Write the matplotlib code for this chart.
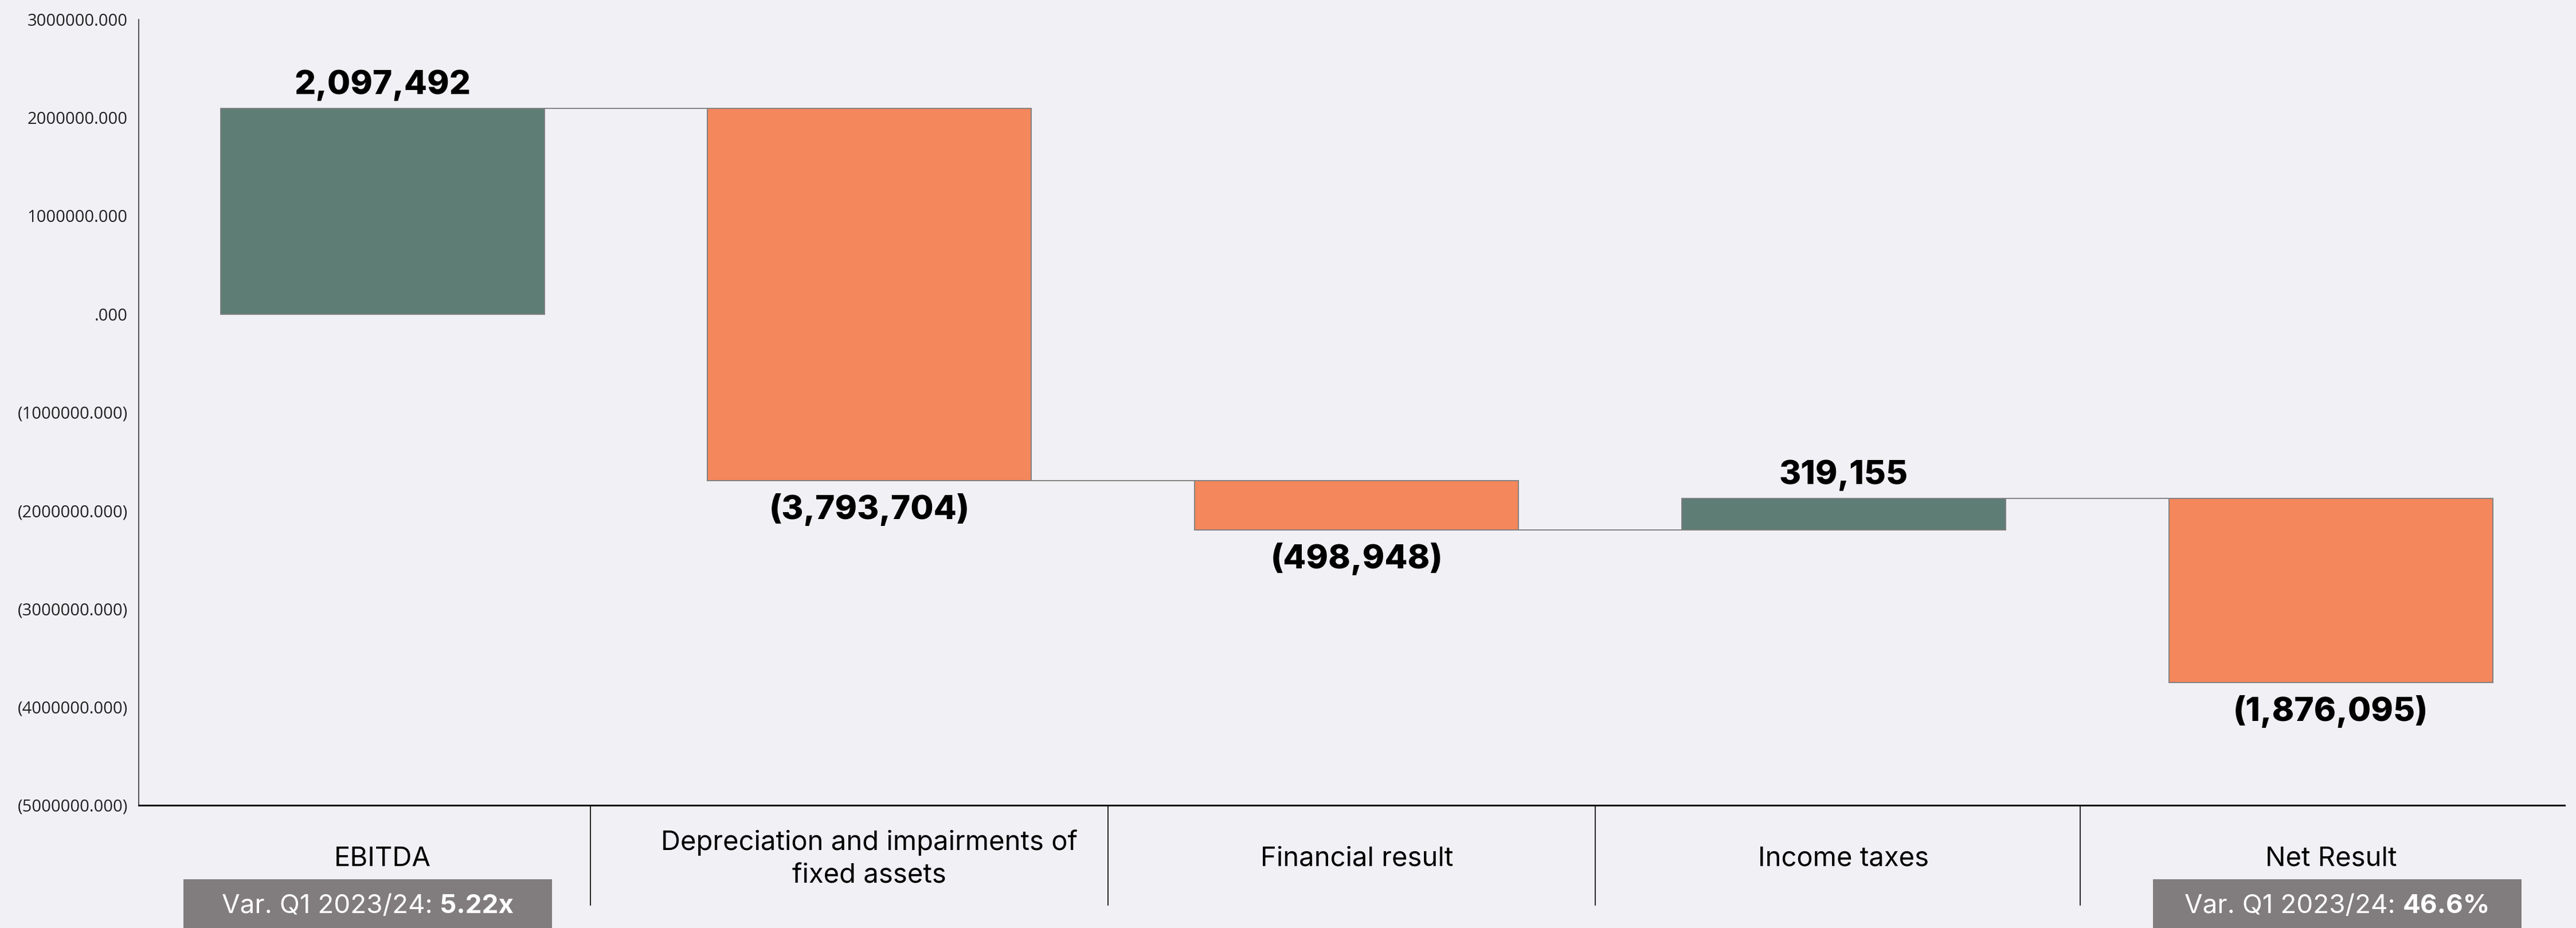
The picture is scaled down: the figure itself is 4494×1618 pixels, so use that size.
import matplotlib
matplotlib.use("Agg")
import matplotlib.pyplot as plt
from matplotlib.patches import Rectangle
from matplotlib.ticker import FuncFormatter, MultipleLocator

# Waterfall steps (EUR)
categories = ["EBITDA", "Depreciation and impairments of\nfixed assets",
              "Financial result", "Income taxes", "Net Result"]
values = [2097492, -3793704, -498948, 319155, -1876095]
value_labels = ["2,097,492", "(3,793,704)", "(498,948)", "319,155", "(1,876,095)"]

# Variation badges under selected categories
badge_index = [0, 4]
badge_prefix = ["Var. Q1 2023/24: ", "Var. Q1 2023/24: "]
badge_value = ["5.22x", "46.6%"]

# Category divider positions along the x axis
dividers = [0.427, 1.49, 2.49, 3.485]

BG = "#F0F0F5"
GREEN = "#5E7D75"
ORANGE = "#F4875C"
EDGE = "#808080"
BADGE = "#817D7E"
TXT_FONT = ["Inter", "DejaVu Sans"]

fig = plt.figure(figsize=(44.94, 16.18), dpi=100, facecolor=BG)
ax = fig.add_axes([0.0539, 0.1323, 0.9417, 0.8467])
ax.set_facecolor(BG)

bar_w = 0.665
running = 0
levels = []
for i, v in enumerate(values):
    start = running
    end = running + v
    color = GREEN if v > 0 else ORANGE
    ax.bar(i, v, bottom=start, width=bar_w, color=color,
           edgecolor=EDGE, linewidth=1.4, zorder=3)
    if v > 0:
        ax.annotate(value_labels[i], (i, end), xytext=(0, 9),
                    textcoords="offset points", ha="center", va="bottom",
                    fontsize=42, fontweight="heavy", family=TXT_FONT, zorder=4)
    else:
        ax.annotate(value_labels[i], (i, end), xytext=(0, -16),
                    textcoords="offset points", ha="center", va="top",
                    fontsize=42, fontweight="heavy", family=TXT_FONT, zorder=4)
    levels.append(end)
    running = end

# Connector lines between consecutive bars
for i in range(len(values) - 1):
    ax.plot([i + bar_w / 2, i + 1 - bar_w / 2], [levels[i], levels[i]],
            color=EDGE, linewidth=1.4, zorder=2)

ax.set_xlim(-0.5, 4.48)
ax.set_ylim(-5000000, 3000000)
ax.yaxis.set_major_locator(MultipleLocator(1000000))


def fmt(v, pos):
    if abs(v) < 0.5:
        return ".000"
    if v < 0:
        return "({:.3f})".format(abs(v))
    return "{:.3f}".format(v)


ax.yaxis.set_major_formatter(FuncFormatter(fmt))
ax.tick_params(axis="y", length=0, pad=14, labelsize=21, labelcolor="#222222")
for lab in ax.get_yticklabels():
    lab.set_family(["Open Sans", "DejaVu Sans"])
ax.set_xticks([])

for s in ["top", "right"]:
    ax.spines[s].set_visible(False)
ax.spines["left"].set_color("#333333")
ax.spines["left"].set_linewidth(1.2)
ax.spines["bottom"].set_color("#111111")
ax.spines["bottom"].set_linewidth(2.2)

# Category labels and dividers below the axis
trans = ax.get_xaxis_transform()
for i, name in enumerate(categories):
    ax.text(i, -0.0685, name, transform=trans, ha="center", va="center",
            fontsize=34, family=TXT_FONT, linespacing=1.4, clip_on=False)
for d in dividers:
    ax.plot([d, d], [0, -0.127], transform=trans, color="#111111",
            linewidth=1.3, clip_on=False)

# Variation badges
badge_center = [-0.03, 4.013]
fig.canvas.draw()
renderer = fig.canvas.get_renderer()
inv = ax.transData.inverted()
for k, idx in enumerate(badge_index):
    c = badge_center[k]
    ax.add_patch(Rectangle((c - 0.378, -0.094), 0.756, -0.2, transform=trans,
                           facecolor=BADGE, edgecolor="none", clip_on=False))
    t1 = ax.text(0, -0.1285, badge_prefix[k], transform=trans, ha="left",
                 va="center", fontsize=33, color="white", family=TXT_FONT,
                 clip_on=False)
    t2 = ax.text(0, -0.1285, badge_value[k], transform=trans, ha="left",
                 va="center", fontsize=33, color="white", fontweight="bold",
                 family=TXT_FONT, clip_on=False)
    w1 = t1.get_window_extent(renderer).width
    w2 = t2.get_window_extent(renderer).width
    cx = ax.transData.transform((c, 0))[0]
    x0 = cx - (w1 + w2) / 2
    t1.set_x(inv.transform((x0, 0))[0])
    t2.set_x(inv.transform((x0 + w1, 0))[0])

fig.savefig("out.png", dpi=100, facecolor=BG)
